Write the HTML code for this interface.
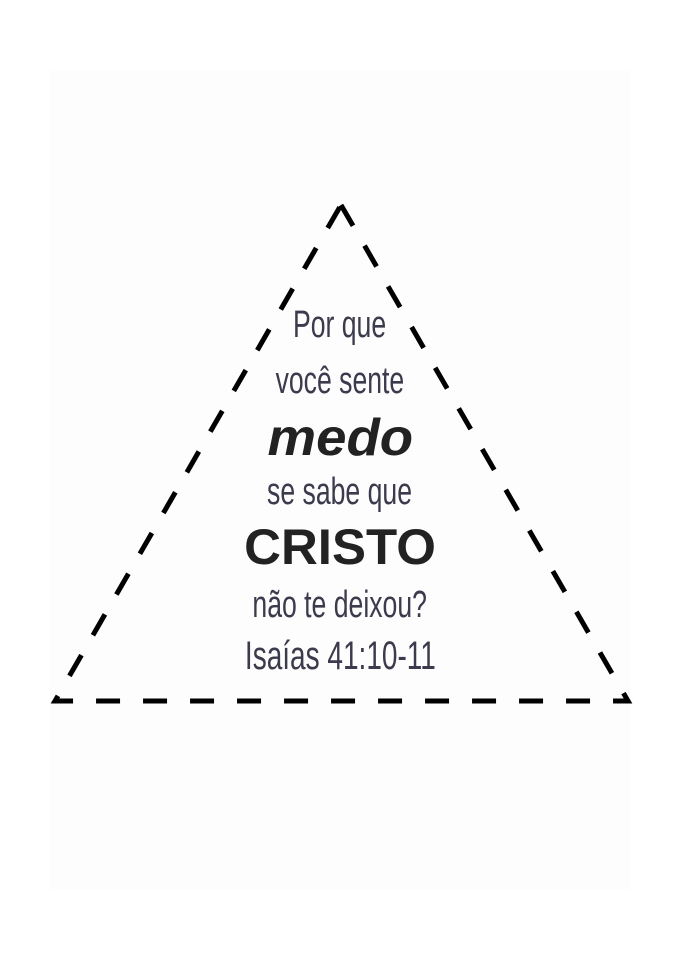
<!DOCTYPE html>
<html><head><meta charset="utf-8"><style>
html,body{margin:0;padding:0;background:#fff;}
.wrap{position:relative;width:680px;height:961px;overflow:hidden;}
.t{position:absolute;left:0;width:680px;text-align:center;font-family:"Liberation Sans Narrow","Liberation Sans",sans-serif;color:#3b3b4d;white-space:nowrap;line-height:1;}
.t span{display:inline-block;transform:scaleX(0.7);}
.b{font-weight:bold;font-style:italic;color:#222;}
</style></head><body><div class="wrap">
<svg width="680" height="961" style="position:absolute;left:0;top:0">
<rect x="50" y="70" width="580" height="820" fill="#fdfdfd"/>
<path d="M341 205 L628 701 L55 701 Z" fill="none" stroke="#000" stroke-width="5" stroke-dasharray="24 23" stroke-linejoin="miter"/>
</svg>
<div class="t" style="top:306px;font-size:38px"><span>Por que</span></div>
<div class="t" style="top:362px;font-size:38px"><span>você sente</span></div>
<div class="t b" style="top:412px;font-size:52px"><span style="transform:scaleX(1.05)">medo</span></div>
<div class="t" style="top:473px;font-size:38px"><span>se sabe que</span></div>
<div class="t b" style="top:522px;font-size:50px;font-style:normal"><span style="transform:scaleX(1.02)">CRISTO</span></div>
<div class="t" style="top:586px;font-size:38px"><span>não te deixou?</span></div>
<div class="t" style="top:636px;font-size:40px"><span>Isaías 41:10-11</span></div>
</div></body></html>
